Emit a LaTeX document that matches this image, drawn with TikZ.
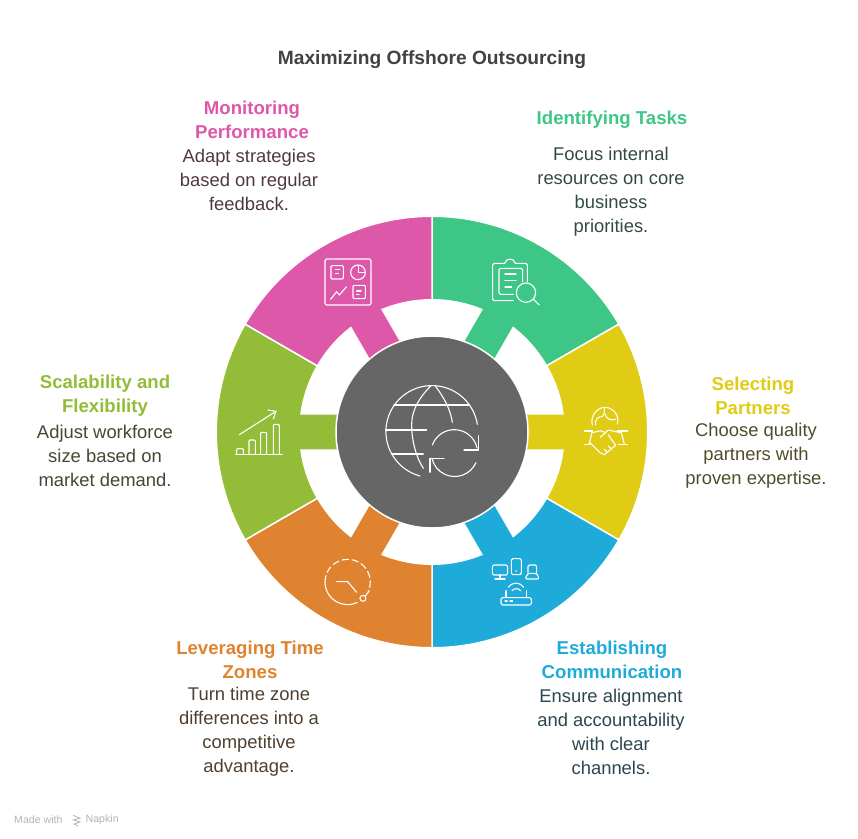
\documentclass[tikz,border=0pt]{standalone}
\usepackage{fontspec}
\setmainfont{Liberation Sans}

\definecolor{tasksgreen}{HTML}{3EC687}
\definecolor{partnersyellow}{HTML}{E0CC15}
\definecolor{channelsblue}{HTML}{1FABDA}
\definecolor{zonesorange}{HTML}{DF8330}
\definecolor{scaleolive}{HTML}{93BC39}
\definecolor{monitorpink}{HTML}{DD58A8}
\definecolor{hubgray}{HTML}{666666}
\definecolor{titlegray}{HTML}{424242}
\definecolor{markgray}{HTML}{B4B4B4}

\begin{document}
\begin{tikzpicture}[x=1pt,y=1pt,yscale=-1,
    sector/.style={draw=white,line width=1.5pt},
    icon/.style={draw=white,line width=1.1pt,line cap=round,line join=round},
    headline/.style={font=\fontsize{18.6}{24}\selectfont\bfseries,align=center},
    bodytext/.style={font=\fontsize{18.4}{24}\selectfont,align=center}]

  % Dimensioni della pagina
  \useasboundingbox (0,0) rectangle (858,838);

  % Centro della ruota
  \coordinate (C) at (432,432);

  % Profilo di un settore (anello con collo verso il centro)
  \def\sectorpath{(-30:215.75) arc[start angle=-30,end angle=30,radius=215.75]
    -- (30:132.25) arc[start angle=30,end angle=7.87,radius=132.25]
    -- (90,18.1) -- (90,-18.1)
    -- (-7.87:132.25) arc[start angle=-7.87,end angle=-30,radius=132.25] -- cycle}

  % Disegno dei settori
  \filldraw[sector,fill=tasksgreen,shift={(C)},rotate=-60] \sectorpath;
  \filldraw[sector,fill=partnersyellow,shift={(C)},rotate=0] \sectorpath;
  \filldraw[sector,fill=channelsblue,shift={(C)},rotate=60] \sectorpath;
  \filldraw[sector,fill=zonesorange,shift={(C)},rotate=120] \sectorpath;
  \filldraw[sector,fill=scaleolive,shift={(C)},rotate=180] \sectorpath;
  \filldraw[sector,fill=monitorpink,shift={(C)},rotate=240] \sectorpath;

  % Disco centrale
  \filldraw[sector,fill=hubgray] (C) circle (96);

  % Globo con frecce
  \begin{scope}[shift={(370,370)},scale=0.3333]
    \draw[icon] (150,318) arc[start angle=105,end angle=351,radius=138];
    \draw[icon] (183,47) .. controls (135,95) and (125,135) .. (125,165) .. controls (125,215) and (140,265) .. (160,295);
    \draw[icon] (195,47) .. controls (225,85) and (243,125) .. (247,157);
    \draw[icon] (72,105) -- (298,105);
    \draw[icon] (47,180) -- (170,180);
    \draw[icon] (65,252) -- (160,252);
    \draw[icon] (187,225) arc[start angle=200,end angle=348,radius=70];
    \draw[icon] (325,197) -- (325,240) -- (282,240);
    \draw[icon] (318,278) arc[start angle=24,end angle=168,radius=70];
    \draw[icon] (222,265) -- (180,265) -- (180,307);
  \end{scope}

  % Icona: appunti e lente
  \begin{scope}[shift={(430,210)},scale=0.3333]
    \draw[icon,rounded corners=1.5pt] (250,272) -- (188,272) -- (188,160) -- (224,160);
    \draw[icon] (224,160) .. controls (228,143) and (252,143) .. (256,160);
    \draw[icon,rounded corners=1.5pt] (256,160) -- (292,160) -- (292,215);
    \draw[icon,rounded corners=1.5pt] (250,253) -- (207,253) -- (207,175) -- (278,175) -- (278,215);
    \draw[icon] (225,192) -- (258,192);
    \draw[icon] (225,211) -- (258,211);
    \draw[icon] (225,231) -- (245,231);
    \draw[icon] (288,248) circle (29);
    \draw[icon] (310,268) -- (328,285);
  \end{scope}

  % Icona: stretta di mano
  \begin{scope}[shift={(575,400)},scale=0.3333]
    \draw[icon] (52,75) .. controls (45,50) and (65,22) .. (90,22) .. controls (115,22) and (135,48) .. (127,72);
    \draw[icon] (62,75) .. controls (58,58) and (70,50) .. (80,50) .. controls (88,48) and (88,38) .. (88,24);
    \draw[icon] (90,42) .. controls (95,60) and (112,62) .. (122,58);
    \draw[icon] (28,93) -- (52,93);
    \draw[icon] (28,133) -- (48,133);
    \draw[icon] (52,93) -- (42,133);
    \draw[icon] (127,93) -- (158,93);
    \draw[icon] (130,133) -- (158,133);
    \draw[icon] (138,93) -- (148,133);
    \draw[icon] (52,98) -- (76,92) -- (92,98);
    \draw[icon] (76,112) -- (100,90) -- (136,98);
    \draw[icon] (45,128) -- (75,158) -- (88,164) -- (122,136) -- (100,105);
    \draw[icon] (88,148) -- (96,156);
    \draw[icon] (100,138) -- (108,146);
  \end{scope}

  % Icona: dispositivi e router
  \begin{scope}[shift={(430,430)},scale=0.3333]
    \draw[icon,rounded corners=1.5pt] (187,405) rectangle (233,435);
    \draw[icon] (210,435) -- (210,447);
    \draw[icon] (195,447) -- (225,447);
    \draw[icon,rounded corners=1.5pt] (244,386) rectangle (274,434);
    \draw[icon] (258,423) -- (258.5,423);
    \draw[icon,rounded corners=1.5pt] (294,430) -- (294,405) -- (320,405) -- (320,430);
    \draw[icon,rounded corners=1.5pt] (294,430) -- (285,447) -- (328,447) -- (320,430) -- cycle;
    \draw[icon] (235,472) .. controls (248,455) and (268,455) .. (281,472);
    \draw[icon] (246,482) .. controls (254,474) and (264,474) .. (272,482);
    \draw[icon,rounded corners=1.5pt] (213,503) rectangle (304,525);
    \draw[icon] (228,503) -- (228,482);
    \draw[icon] (290,503) -- (290,482);
    \draw[icon] (225,513) -- (232,513);
    \draw[icon] (240,513) -- (248,513);
  \end{scope}

  % Icona: orologio
  \begin{scope}[shift={(215,430)},scale=0.3333]
    \draw[icon] (330,456) arc[start angle=180,end angle=65,radius=68];
    \draw[icon,dash pattern=on 6.5pt off 3.5pt] (330,456) arc[start angle=180,end angle=385,radius=68];
    \draw[icon] (365,455) -- (398,455) -- (425,487);
    \draw[icon] (444,505) circle (9);
    \draw[icon] (451,498) -- (463,483);
  \end{scope}

  % Icona: barre e freccia
  \begin{scope}[shift={(230,400)},scale=0.3333]
    \draw[icon] (17,163) -- (157,163);
    \draw[icon,rounded corners=1pt] (20,163) -- (20,146) -- (40,146) -- (40,163);
    \draw[icon,rounded corners=1pt] (57,163) -- (57,120) -- (76,120) -- (76,163);
    \draw[icon,rounded corners=1pt] (92,163) -- (92,97) -- (110,97) -- (110,163);
    \draw[icon,rounded corners=1pt] (130,163) -- (130,73) -- (148,73) -- (148,163);
    \draw[icon] (28,104) -- (138,34);
    \draw[icon] (114,30) -- (138,34) -- (130,57);
  \end{scope}

  % Icona: pannello di controllo
  \begin{scope}[shift={(215,210)},scale=0.3333]
    \draw[icon,rounded corners=1.5pt] (330,147) rectangle (468,285);
    \draw[icon,rounded corners=1pt] (348,167) rectangle (385,207);
    \draw[icon] (362,178) -- (374,178);
    \draw[icon] (362,190) -- (370,190);
    \draw[icon] (429,187) circle (22);
    \draw[icon] (430,168) -- (430,187) -- (449,187);
    \draw[icon] (347,268) -- (365,245) -- (373,255) -- (395,230);
    \draw[icon,rounded corners=1pt] (414,226) rectangle (451,266);
    \draw[icon] (425,243) -- (438,243);
    \draw[icon] (425,254) -- (432,254);
  \end{scope}

  % Titolo
  \node[font=\fontsize{19.2}{24}\selectfont\bfseries,text=titlegray] (title) at (432,60) {Maximizing Offshore Outsourcing};

  % Etichette in alto a destra
  \node[headline,text=tasksgreen] (tasksHead) at (612,120) {Identifying Tasks};
  \node[bodytext,text=tasksgreen!22!black!85!white] (tasksText) at (611,192) {Focus internal\\resources on core\\business\\priorities.};

  % Etichette a destra
  \node[headline,text=partnersyellow] (partnersHead) at (753,396) {Selecting\\Partners};
  \node[bodytext,text=partnersyellow!22!black!85!white] (partnersText) at (756,456) {Choose quality\\partners with\\proven expertise.};

  % Etichette in basso a destra
  \node[headline,text=channelsblue] (channelsHead) at (612,660) {Establishing\\Communication};
  \node[bodytext,text=channelsblue!22!black!85!white] (channelsText) at (611,732) {Ensure alignment\\and accountability\\with clear\\channels.};

  % Etichette in basso a sinistra
  \node[headline,text=zonesorange] (zonesHead) at (250,660) {Leveraging Time\\Zones};
  \node[bodytext,text=zonesorange!22!black!85!white] (zonesText) at (249,732) {Turn time zone\\differences into a\\competitive\\advantage.};

  % Etichette a sinistra
  \node[headline,text=scaleolive] (scaleHead) at (105,396) {Scalability and\\Flexibility};
  \node[bodytext,text=scaleolive!22!black!85!white] (scaleText) at (105,456) {Adjust workforce\\size based on\\market demand.};

  % Etichette in alto a sinistra
  \node[headline,text=monitorpink] (monitorHead) at (252,120) {Monitoring\\Performance};
  \node[bodytext,text=monitorpink!22!black!85!white] (monitorText) at (249,180) {Adapt strategies\\based on regular\\feedback.};

  % Marchio
  \node[font=\fontsize{10.6}{12}\selectfont,text=markgray,anchor=west,inner sep=0pt] (madeWith) at (14,820) {Made with};
  \node[font=\fontsize{10.6}{12}\selectfont,text=markgray,anchor=west,inner sep=0pt] (napkin) at (85.5,820) {Napkin};
  \begin{scope}[shift={(0,800)},scale=0.3333]
    \draw[markgray,line width=0.8pt] (220,46) -- (240,55) -- (220,60) -- (240,66) -- (222,72) -- (234,78);
  \end{scope}

\end{tikzpicture}
\end{document}
